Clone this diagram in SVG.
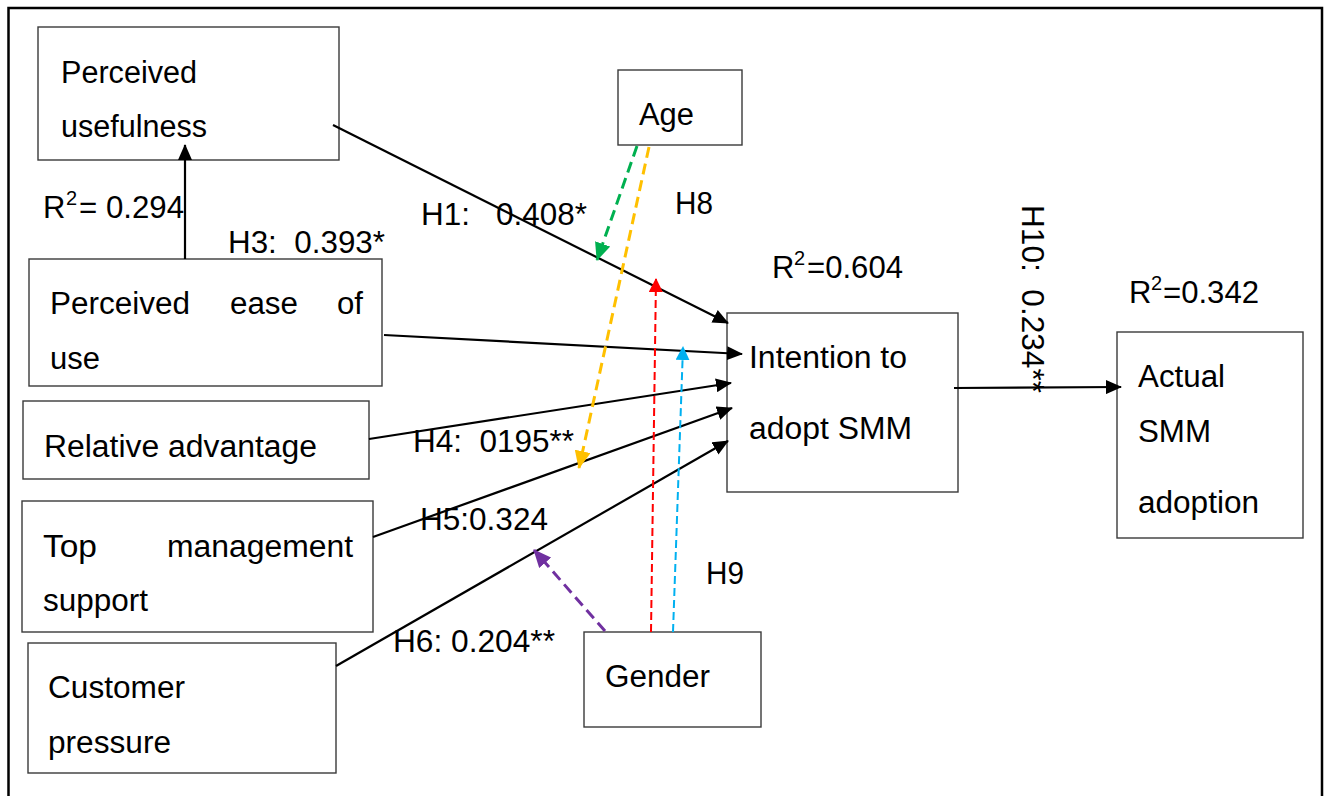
<svg xmlns="http://www.w3.org/2000/svg" width="1327" height="796" viewBox="0 0 1327 796">
<style>
text{font-family:"Liberation Sans",Arial,sans-serif;font-size:31px;fill:#000}
.box{fill:#fff;stroke:#3a3a3a;stroke-width:1.4}
.sup{font-size:20px}
.ln{stroke:#000;stroke-width:2.2;fill:none}
.dg{stroke:#00B050;stroke-width:3;stroke-dasharray:11 6;fill:none}
.dy{stroke:#FFC000;stroke-width:3;stroke-dasharray:11 6;fill:none}
.dp{stroke:#7030A0;stroke-width:3;stroke-dasharray:11 6;fill:none}
.dr{stroke:#FF0000;stroke-width:2;stroke-dasharray:8 4;fill:none}
.db{stroke:#00B0F0;stroke-width:2;stroke-dasharray:8 4;fill:none}
</style>
<defs>
<marker id="ak" viewBox="0 0 16 14" refX="15" refY="7" markerWidth="16" markerHeight="14" markerUnits="userSpaceOnUse" orient="auto"><path d="M0,0 L16,7 L0,14 z" fill="#000"/></marker>
<marker id="ag" viewBox="0 0 18 16" refX="17" refY="8" markerWidth="18" markerHeight="16" markerUnits="userSpaceOnUse" orient="auto"><path d="M0,0 L18,8 L0,16 z" fill="#00B050"/></marker>
<marker id="ay" viewBox="0 0 18 16" refX="17" refY="8" markerWidth="18" markerHeight="16" markerUnits="userSpaceOnUse" orient="auto"><path d="M0,0 L18,8 L0,16 z" fill="#FFC000"/></marker>
<marker id="ap" viewBox="0 0 18 16" refX="17" refY="8" markerWidth="18" markerHeight="16" markerUnits="userSpaceOnUse" orient="auto"><path d="M0,0 L18,8 L0,16 z" fill="#7030A0"/></marker>
<marker id="ar" viewBox="0 0 14 14" refX="13" refY="7" markerWidth="14" markerHeight="14" markerUnits="userSpaceOnUse" orient="auto"><path d="M0,0 L14,7 L0,14 z" fill="#FF0000"/></marker>
<marker id="ab" viewBox="0 0 14 14" refX="13" refY="7" markerWidth="14" markerHeight="14" markerUnits="userSpaceOnUse" orient="auto"><path d="M0,0 L14,7 L0,14 z" fill="#00B0F0"/></marker>
</defs>
<rect x="0" y="0" width="1327" height="796" fill="#fff"/>
<rect x="8.5" y="8" width="1313.5" height="800" fill="none" stroke="#000" stroke-width="2.5"/>

<g id="pu">
<rect class="box" x="38" y="27" width="301" height="133"/>
<text x="61" y="83" textLength="136" lengthAdjust="spacingAndGlyphs">Perceived</text>
<text x="61" y="137" textLength="146" lengthAdjust="spacingAndGlyphs">usefulness</text>
</g>
<g id="peou">
<rect class="box" x="29" y="259" width="353" height="127"/>
<text x="50" y="314" textLength="140" lengthAdjust="spacingAndGlyphs">Perceived</text>
<text x="230" y="314" textLength="68" lengthAdjust="spacingAndGlyphs">ease</text>
<text x="337" y="314" textLength="26" lengthAdjust="spacingAndGlyphs">of</text>
<text x="50" y="369" textLength="50" lengthAdjust="spacingAndGlyphs">use</text>
</g>
<g id="ra">
<rect class="box" x="23" y="401" width="346" height="78"/>
<text x="44" y="457" textLength="273" lengthAdjust="spacingAndGlyphs">Relative advantage</text>
</g>
<g id="tms">
<rect class="box" x="22" y="501" width="351" height="131"/>
<text x="43" y="557" textLength="54" lengthAdjust="spacingAndGlyphs">Top</text>
<text x="167" y="557" textLength="186" lengthAdjust="spacingAndGlyphs">management</text>
<text x="43" y="611" textLength="105" lengthAdjust="spacingAndGlyphs">support</text>
</g>
<g id="cp">
<rect class="box" x="28" y="643" width="308" height="130"/>
<text x="48" y="698" textLength="137" lengthAdjust="spacingAndGlyphs">Customer</text>
<text x="48" y="753" textLength="123" lengthAdjust="spacingAndGlyphs">pressure</text>
</g>
<g id="age">
<rect class="box" x="618" y="70" width="124" height="75"/>
<text x="639" y="125" textLength="55" lengthAdjust="spacingAndGlyphs">Age</text>
</g>
<g id="gender">
<rect class="box" x="584" y="632" width="177" height="95"/>
<text x="605" y="687" textLength="105" lengthAdjust="spacingAndGlyphs">Gender</text>
</g>
<g id="intention">
<rect class="box" x="727" y="313" width="231" height="179"/>
<text x="749" y="368" textLength="158" lengthAdjust="spacingAndGlyphs">Intention to</text>
<text x="749" y="439" textLength="163" lengthAdjust="spacingAndGlyphs">adopt SMM</text>
</g>
<g id="actual">
<rect class="box" x="1117" y="332" width="186" height="206"/>
<text x="1138" y="387" textLength="87" lengthAdjust="spacingAndGlyphs">Actual</text>
<text x="1138" y="442" textLength="73" lengthAdjust="spacingAndGlyphs">SMM</text>
<text x="1138" y="513" textLength="121" lengthAdjust="spacingAndGlyphs">adoption</text>
</g>

<g id="connectors">
<line class="ln" x1="185" y1="259" x2="185" y2="145" marker-end="url(#ak)"/>
<line class="ln" x1="333" y1="125" x2="728" y2="323" marker-end="url(#ak)"/>
<line class="ln" x1="384" y1="335" x2="742" y2="354" marker-end="url(#ak)"/>
<line class="ln" x1="369" y1="439" x2="731" y2="383" marker-end="url(#ak)"/>
<line class="ln" x1="373" y1="537" x2="732" y2="408" marker-end="url(#ak)"/>
<line class="ln" x1="336" y1="666" x2="728" y2="441" marker-end="url(#ak)"/>
<line class="ln" x1="954" y1="388" x2="1121" y2="387" marker-end="url(#ak)"/>
<line class="dg" x1="637" y1="146" x2="597" y2="260" marker-end="url(#ag)"/>
<line class="dy" x1="649" y1="147" x2="579" y2="468" marker-end="url(#ay)"/>
<line class="dr" x1="651" y1="632" x2="656" y2="279" marker-end="url(#ar)"/>
<line class="db" x1="673" y1="632" x2="683" y2="347" marker-end="url(#ab)"/>
<line class="dp" x1="605" y1="631" x2="534" y2="550" marker-end="url(#ap)"/>
</g>

<g id="labels">
<text x="43" y="218">R<tspan class="sup" x="66" y="205">2</tspan><tspan x="79" y="218" textLength="105" lengthAdjust="spacingAndGlyphs">= 0.294</tspan></text>
<text x="228" y="253" textLength="157" lengthAdjust="spacingAndGlyphs" xml:space="preserve">H3:  0.393*</text>
<text x="421" y="225" textLength="166" lengthAdjust="spacingAndGlyphs" xml:space="preserve">H1:   0.408*</text>
<text x="675" y="214" textLength="38" lengthAdjust="spacingAndGlyphs">H8</text>
<text x="772" y="278">R<tspan class="sup" x="794" y="265">2</tspan><tspan x="807" y="278" textLength="96" lengthAdjust="spacingAndGlyphs">=0.604</tspan></text>
<text x="1129" y="303">R<tspan class="sup" x="1151" y="290">2</tspan><tspan x="1163" y="303" textLength="96" lengthAdjust="spacingAndGlyphs">=0.342</tspan></text>
<text transform="translate(1022,205) rotate(90)" textLength="188" lengthAdjust="spacingAndGlyphs" xml:space="preserve">H10:  0.234**</text>
<text x="413" y="452" textLength="161" lengthAdjust="spacingAndGlyphs" xml:space="preserve">H4:  0195**</text>
<text x="420" y="530" textLength="128" lengthAdjust="spacingAndGlyphs">H5:0.324</text>
<text x="393" y="652" textLength="162" lengthAdjust="spacingAndGlyphs">H6: 0.204**</text>
<text x="706" y="584" textLength="38" lengthAdjust="spacingAndGlyphs">H9</text>
</g>
</svg>
